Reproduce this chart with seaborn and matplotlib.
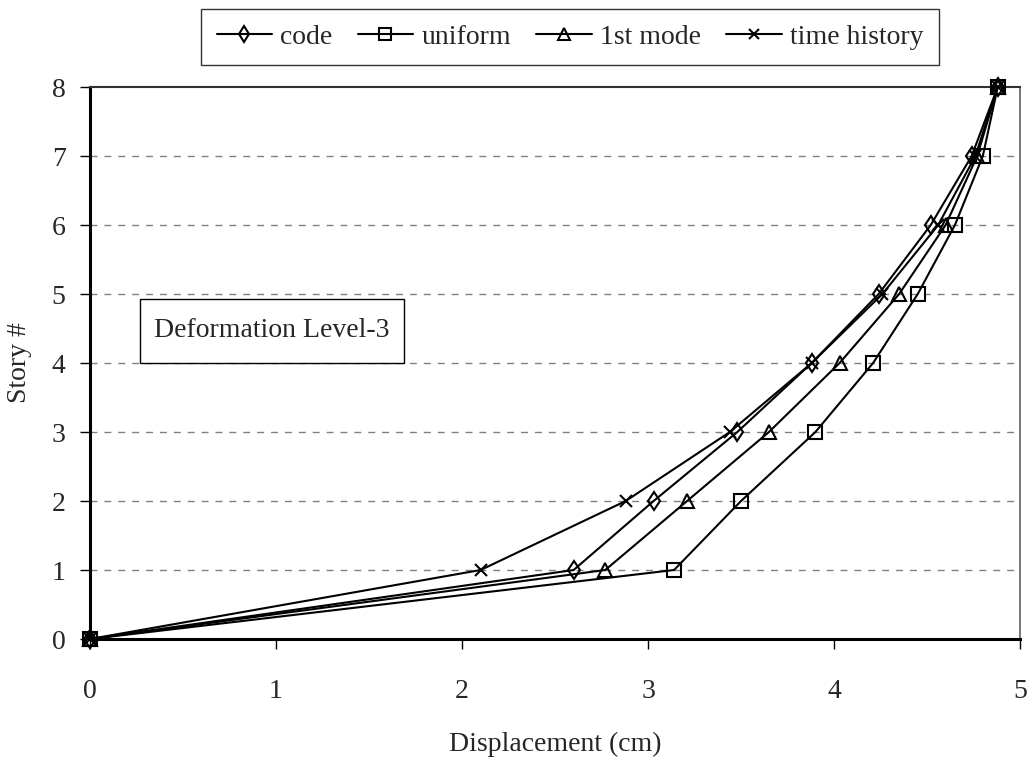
import matplotlib
matplotlib.use("Agg")
import matplotlib.pyplot as plt
from matplotlib.patches import Rectangle
import numpy as np
import pandas as pd
import seaborn as sns

stories = [0, 1, 2, 3, 4, 5, 6, 7, 8]
code = [0, 2.60, 3.03, 3.48, 3.88, 4.24, 4.52, 4.74, 4.88]
uniform = [0, 3.14, 3.50, 3.90, 4.21, 4.45, 4.65, 4.80, 4.88]
first_mode = [0, 2.77, 3.21, 3.65, 4.03, 4.35, 4.60, 4.77, 4.88]
time_history = [0, 2.10, 2.88, 3.44, 3.88, 4.26, 4.56, 4.76, 4.88]
series_names = ["code", "uniform", "1st mode", "time history"]
marker_list = ["d", "s", "^", "x"]
marker_sizes = [9.5, 9.5, 9.5, 9]

sns.set_style("white")
plt.rcParams["font.family"] = ["Liberation Serif", "DejaVu Serif"]

fig = plt.figure(figsize=(10.32, 7.64), dpi=100)
ax = fig.add_axes([0.0872, 0.1636, 0.9012, 0.7225])

for name, vals, mk, ms in zip(series_names, [code, uniform, first_mode, time_history],
                              marker_list, marker_sizes):
    d = pd.DataFrame({"disp": vals, "story": stories})
    sns.lineplot(
        data=d, x="disp", y="story", sort=False, estimator=None, ax=ax,
        color="black", linewidth=1.5, marker=mk, markersize=ms,
        markerfacecolor="none", markeredgecolor="black", markeredgewidth=1.5,
        label=name, clip_on=False, zorder=3,
    )

for y in range(1, 8):
    ax.axhline(y, color="#808080", linestyle=(0, (5, 5)), linewidth=1, zorder=0)

ax.set_xlim(0, 5)
ax.set_ylim(0, 8)
ax.set_xticks(range(0, 6))
ax.set_yticks(range(0, 9))
ax.tick_params(axis="both", direction="out", length=7.5, width=1, labelsize=20,
               bottom=True, left=True, color="black")
ax.tick_params(axis="x", pad=21)
ax.tick_params(axis="y", pad=10)
for side in ["left", "bottom"]:
    ax.spines[side].set_color("black")
    ax.spines[side].set_linewidth(2.2)
ax.spines["top"].set_color("#303030")
ax.spines["top"].set_linewidth(1.5)
ax.spines["right"].set_color("#606060")
ax.spines["right"].set_linewidth(1.2)

ax.set_xlabel("Displacement (cm)", fontsize=20, labelpad=20)
ax.set_ylabel("Story #", fontsize=20, labelpad=14)

ax.add_patch(Rectangle((0.269, 4.0), 1.419, 0.93, facecolor="white", edgecolor="black",
                       linewidth=1, zorder=2))
ax.text(0.978, 4.47, "Deformation Level-3", fontsize=20, ha="center", va="center", zorder=4)

handles, labels = ax.get_legend_handles_labels()
leg = fig.legend(handles, labels, loc="upper center", bbox_to_anchor=(0.5523, 0.988),
                 ncol=4, frameon=True, fancybox=False, fontsize=20, handlelength=2.0,
                 handletextpad=0.3, columnspacing=0.9, borderpad=0.55, borderaxespad=0,
                 markerscale=0.85, edgecolor="black")
leg.get_frame().set_linewidth(1)
ax.get_legend().remove()

fig.savefig("out.png", dpi=100)
